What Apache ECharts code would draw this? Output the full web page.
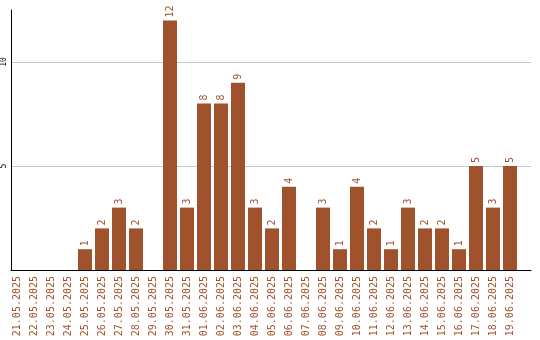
<!DOCTYPE html>
<html><head><meta charset="utf-8">
<script src="https://cdn.jsdelivr.net/npm/echarts@6/dist/echarts.min.js"></script>
<style>html,body{margin:0;padding:0;background:#fff}#c{width:540px;height:340px}</style>
</head><body><div id="c"></div>
<script>
var categories = ["21.05.2025","22.05.2025","23.05.2025","24.05.2025","25.05.2025","26.05.2025","27.05.2025","28.05.2025","29.05.2025","30.05.2025","31.05.2025","01.06.2025","02.06.2025","03.06.2025","04.06.2025","05.06.2025","06.06.2025","07.06.2025","08.06.2025","09.06.2025","10.06.2025","11.06.2025","12.06.2025","13.06.2025","14.06.2025","15.06.2025","16.06.2025","17.06.2025","18.06.2025","19.06.2025"];
var values = [0,0,0,0,1,2,3,2,0,12,3,8,8,9,3,2,4,0,3,1,4,2,1,3,2,2,1,5,3,5];
var yMin = 0, yMax = 12.5, yInterval = 5;
var brown = '#a0522d';
var mono = '"DejaVu Sans Mono", monospace';
var chart = echarts.init(document.getElementById('c'));
chart.setOption({
  animation: false,
  grid: [
    {left: 8.5, right: 21.5, top: 10, bottom: 70},
    {left: 10.5, right: 9, top: 10, bottom: 70}
  ],
  xAxis: [
    {type: 'category', gridIndex: 0, data: categories,
     axisLine: {show: false}, axisTick: {show: false},
     axisLabel: {rotate: 90, interval: 0, margin: 6, color: brown, fontFamily: mono, fontSize: 10}},
    {type: 'value', gridIndex: 1, min: 0, max: 1,
     axisLine: {show: true, onZero: false, lineStyle: {color: '#000', width: 1}},
     axisTick: {show: false}, axisLabel: {show: false}, splitLine: {show: false}}
  ],
  yAxis: [
    {type: 'value', gridIndex: 0, min: yMin, max: yMax, interval: yInterval, show: false,
     splitLine: {show: false}},
    {type: 'value', gridIndex: 1, min: yMin, max: yMax, interval: yInterval,
     axisLine: {show: true, lineStyle: {color: '#000', width: 1}},
     axisTick: {show: false},
     axisLabel: {showMinLabel: false, showMaxLabel: false, rotate: 90, margin: 3,
       color: '#000', fontFamily: mono, fontSize: 8},
     splitLine: {show: true, showMinLine: false, showMaxLine: false, lineStyle: {color: '#c8c8c8', width: 1}}}
  ],
  series: [{
    type: 'bar', xAxisIndex: 0, yAxisIndex: 0, data: values,
    barWidth: 14, itemStyle: {color: brown},
    label: {show: true, position: 'top', rotate: 90, align: 'left', verticalAlign: 'middle', distance: 3,
      color: brown, fontFamily: mono, fontSize: 10,
      formatter: function(p){ return p.value ? String(p.value) : ''; }}
  }]
});
</script></body></html>
